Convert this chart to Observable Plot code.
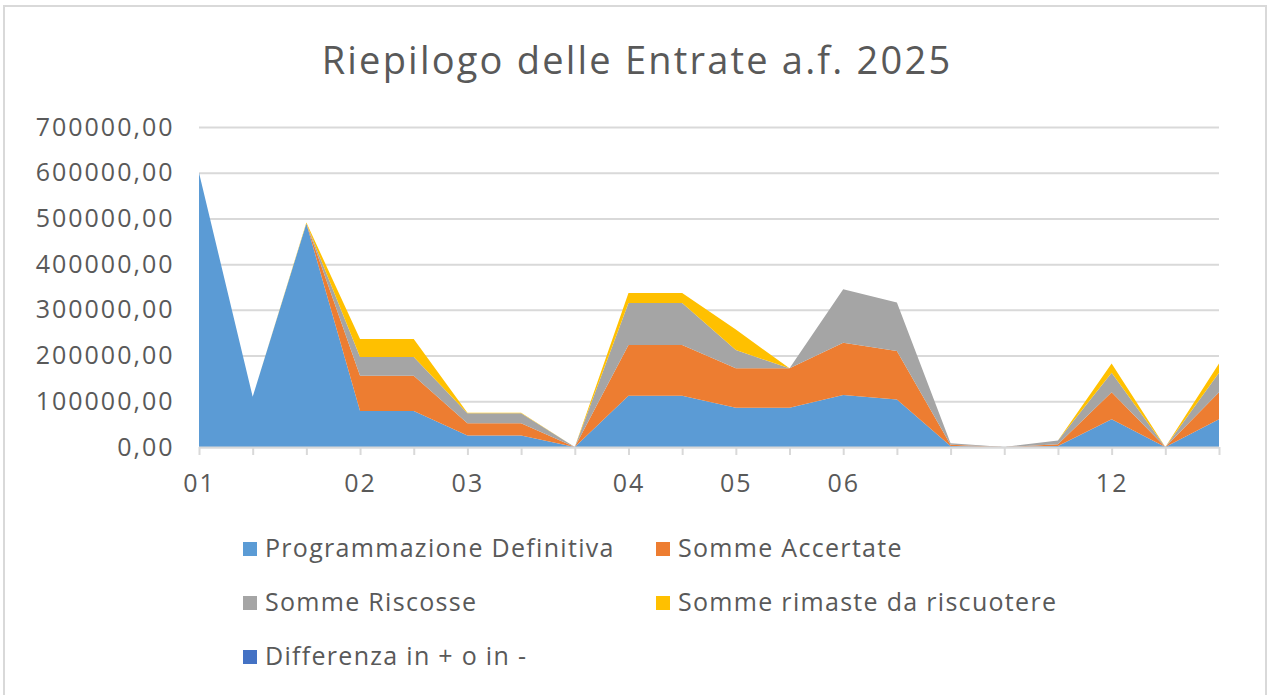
<!DOCTYPE html>
<html>
<head>
<meta charset="utf-8">
<script src="https://cdn.jsdelivr.net/npm/d3@7"></script>
<script src="https://cdn.jsdelivr.net/npm/@observablehq/plot@0.6"></script>
<style>
  body { margin: 0; background: #fff; font-family: "Open Sans", sans-serif; }
  #frame { position: absolute; left: 3px; top: 5px; width: 1264px; height: 720px; border: 2px solid #D9D9D9; box-sizing: border-box; }
  #title { position: absolute; top: 33px; left: 0; width: 1274px; text-align: center; font-size: 38px; letter-spacing: 2.2px; color: #595959; }
  #chart { position: absolute; left: 0; top: 100px; }
  #chart text { letter-spacing: 2px; }
  .leg { position: absolute; font-size: 25px; letter-spacing: 1.3px; color: #595959; white-space: nowrap; line-height: 1; }
  .sw { display: inline-block; width: 14px; height: 14px; margin-right: 8px; vertical-align: 1px; }
</style>
</head>
<body>
<div id="frame"></div>
<div id="title">Riepilogo delle Entrate a.f. 2025</div>
<div id="chart"></div>
<div id="legend"></div>
<script>
const xLabels = ["01","","","02","","03","","","04","","05","","06","","","","","12","",""];
const seriesNames = ["Programmazione Definitiva","Somme Accertate","Somme Riscosse","Somme rimaste da riscuotere","Differenza in + o in -"];
const seriesColors = ["#5B9BD5","#ED7D31","#A5A5A5","#FFC000","#4472C4"];
const programmazione = [600000,110000,489000,79000,79000,25000,25000,0,112000,112000,86000,86000,114000,104000,2000,0,2000,60500,0,60500];
const accertate      = [0,0,0,77000,77000,27000,27000,0,111000,111000,86000,86000,114000,106000,3000,0,4000,59000,0,59000];
const riscosse       = [0,0,0,41000,41000,22000,22000,0,92000,92000,40000,0,117000,106000,3000,0,8000,43000,0,43000];
const rimaste        = [0,0,2000,39000,39000,1000,1000,0,22000,22000,45000,0,0,0,0,0,0,20000,0,20000];
const differenza     = [0,0,0,0,0,0,0,0,0,0,0,0,0,0,0,0,0,0,0,0];
const yTicks = [0,100000,200000,300000,400000,500000,600000,700000];

const allSeries = [programmazione, accertate, riscosse, rimaste, differenza];
const data = [];
allSeries.forEach((vals, s) => vals.forEach((v, i) => data.push({i, v, s: seriesNames[s]})));

const fmt = v => d3.format(".2f")(v).replace(".", ",");

const chart = Plot.plot({
  width: 1274,
  height: 407,
  marginLeft: 199,
  marginRight: 55,
  marginTop: 27,
  marginBottom: 60,
  style: { fontFamily: "Open Sans, sans-serif", fontSize: "22px", color: "#595959", background: "transparent" },
  x: { type: "linear", domain: [0, xLabels.length - 1] },
  y: { domain: [0, 700000] },
  color: { domain: seriesNames, range: seriesColors },
  marks: [
    Plot.ruleY(yTicks, { stroke: "#D9D9D9", strokeWidth: 2 }),
    Plot.areaY(data, { x: "i", y: "v", z: "s", fill: "s", order: seriesNames, curve: "linear" }),
    Plot.ruleY([0], { stroke: "#D9D9D9", strokeWidth: 2 }),
    Plot.axisY({ ticks: yTicks, tickFormat: fmt, tickSize: 0, tickPadding: 25, fontSize: 25, fill: "#595959", label: null }),
    Plot.axisX({ ticks: d3.range(xLabels.length), tickFormat: i => xLabels[i], tickSize: 8, tickPadding: 19, stroke: "#D9D9D9", strokeWidth: 2, fontSize: 25, fill: "#595959", label: null })
  ]
});
document.getElementById("chart").appendChild(chart);

const legPos = [[243,535],[656,535],[243,589],[656,589],[243,643]];
const legend = document.getElementById("legend");
seriesNames.forEach((n, k) => {
  const d = document.createElement("div");
  d.className = "leg";
  d.style.left = legPos[k][0] + "px";
  d.style.top = legPos[k][1] + "px";
  d.innerHTML = `<span class="sw" style="background:${seriesColors[k]}"></span>${n}`;
  legend.appendChild(d);
});
</script>
</body>
</html>
